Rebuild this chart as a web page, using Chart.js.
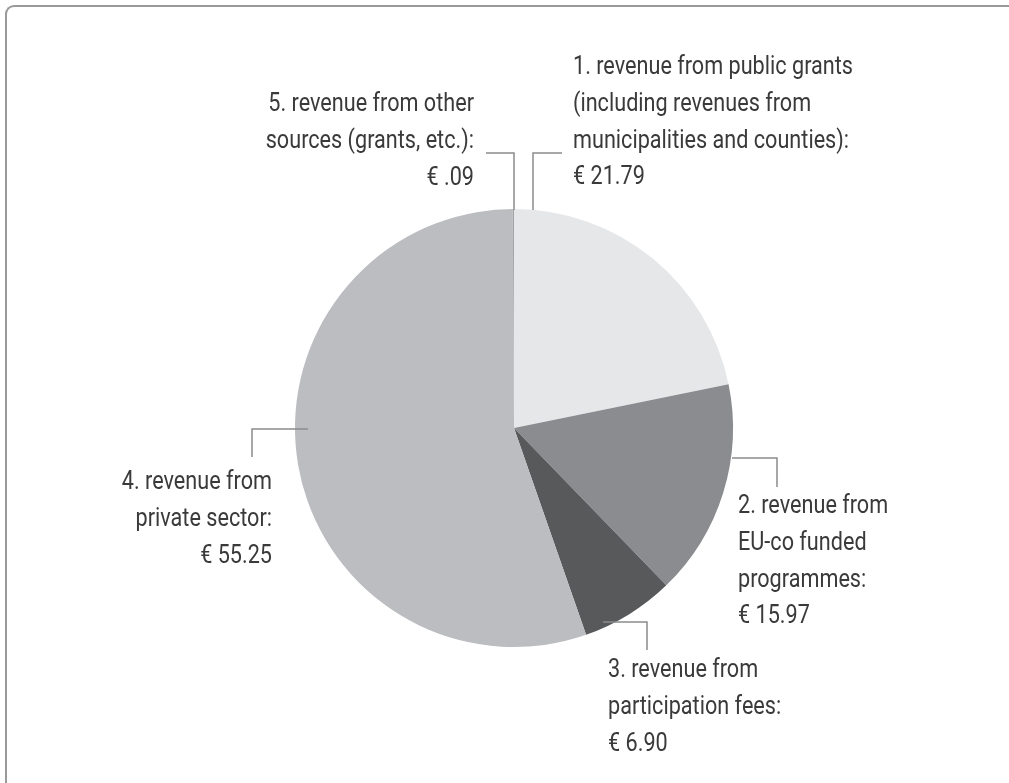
<!DOCTYPE html>
<html>
<head>
<meta charset="utf-8">
<script src="https://cdn.jsdelivr.net/npm/chart.js@4.4.1/dist/chart.umd.min.js"></script>
<style>
  html, body { margin: 0; padding: 0; background: #fff; overflow: hidden; }
  #wrap { position: relative; width: 1009px; height: 783px; }
  .frame {
    position: absolute; left: 5px; top: 5px; width: 1100px; height: 900px;
    border-top: 2px solid #9a9a9a; border-left: 2px solid #9a9a9a;
    border-top-left-radius: 9px; box-sizing: border-box;
  }
  canvas { position: absolute; left: 0; top: 0; }
</style>
</head>
<body>
<div id="wrap">
  <div class="frame"></div>
  <canvas id="piechart" width="1009" height="783"></canvas>
</div>
<script>
// categories, split into the lines shown on the chart
const categories = [
  ['1. revenue from public grants', '(including revenues from', 'municipalities and counties):'],
  ['2. revenue from', 'EU-co funded', 'programmes:'],
  ['3. revenue from', 'participation fees:'],
  ['4. revenue from', 'private sector:'],
  ['5. revenue from other', 'sources (grants, etc.):']
];
const values = [21.79, 15.97, 6.90, 55.25, 0.09]; // share of revenue
const colors = ['#e6e7e8', '#8b8c8f', '#58595b', '#bcbdc0', '#a3a4a7'];

// value label like "€ 21.79" / "€ .09"
function valueLabel(v) {
  return '€ ' + v.toFixed(2).replace(/^0/, '');
}

// leader lines and label anchors, relative to the pie centre
const leaders = [
  { path: [[19, -218], [19, -275], [48, -275]], x: 59, y: -354, align: 'left' },
  { path: [[218, 30], [263, 30], [263, 59]], x: 224, y: 85, align: 'left' },
  { path: [[89, 194], [133, 194], [133, 222]], x: 94, y: 249, align: 'left' },
  { path: [[-206, 1], [-262, 1], [-262, 29]], x: -242, y: 61, align: 'right' },
  { path: [[0, -218], [0, -275], [-28, -275]], x: -40, y: -317, align: 'right' }
];
const lineHeight = 36.8;

const leaderPlugin = {
  id: 'leaders',
  afterDatasetsDraw(chart) {
    const ctx = chart.ctx;
    const arc = chart.getDatasetMeta(0).data[0];
    const cx = arc.x, cy = arc.y;

    ctx.save();
    // leader lines
    ctx.strokeStyle = '#8c8c8c';
    ctx.lineWidth = 1.5;
    leaders.forEach(l => {
      ctx.beginPath();
      l.path.forEach((p, i) => {
        if (i === 0) ctx.moveTo(cx + p[0], cy + p[1]);
        else ctx.lineTo(cx + p[0], cy + p[1]);
      });
      ctx.stroke();
    });

    // labels (condensed look by squeezing horizontally)
    ctx.font = '400 25px Roboto, "Noto Sans", sans-serif';
    ctx.fillStyle = '#3a3a3a';
    ctx.textBaseline = 'alphabetic';
    const sx = 280 / ctx.measureText(categories[0][0]).width;
    leaders.forEach((l, i) => {
      const lines = categories[i].concat([valueLabel(values[i])]);
      lines.forEach((t, j) => {
        ctx.save();
        ctx.translate(cx + l.x, cy + l.y + j * lineHeight);
        ctx.scale(sx, 1);
        ctx.textAlign = l.align;
        ctx.fillText(t, 0, 0);
        ctx.restore();
      });
    });
    ctx.restore();
  }
};

const ctx = document.getElementById('piechart');

new Chart(ctx, {
  type: 'pie',
  data: {
    labels: categories.map(c => c.join(' ')),
    datasets: [{
      data: values,
      backgroundColor: colors,
      borderWidth: 0,
      hoverOffset: 0
    }]
  },
  options: {
    responsive: false,
    animation: false,
    devicePixelRatio: 1,
    layout: {
      padding: { left: 295, right: 276, top: 209, bottom: 136 }
    },
    plugins: {
      legend: { display: false },
      tooltip: { enabled: false }
    }
  },
  plugins: [leaderPlugin]
});
</script>
</body>
</html>
